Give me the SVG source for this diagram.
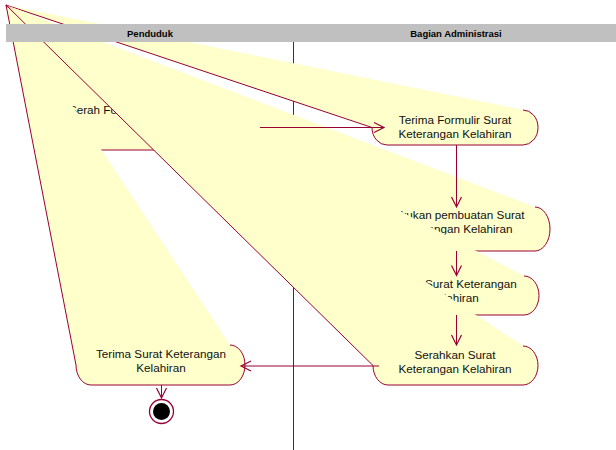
<svg xmlns="http://www.w3.org/2000/svg" width="616" height="450" viewBox="0 0 616 450">
  <style>
    .node { fill: #ffffcc; stroke: #990033; stroke-width: 1; }
    .label { font-family: "Liberation Sans", Arial, sans-serif; font-size: 11.7px; fill: #111; text-anchor: middle; }
    .lane-title { font-family: "Liberation Sans", Arial, sans-serif; font-size: 9.5px; font-weight: bold; fill: #000; text-anchor: middle; }
    .edge { stroke: #990033; stroke-width: 1; fill: none; }
  </style>
  <defs>
    <marker id="open-arrow" markerUnits="userSpaceOnUse" markerWidth="12" markerHeight="12" refX="10" refY="5" orient="auto" overflow="visible">
      <path d="M0,0 L10,5 L0,10" fill="none" stroke="#990033" stroke-width="1.2"/>
    </marker>
  </defs>

  <rect width="616" height="450" fill="#ffffff"/>

  <!-- swimlane divider -->
  <line x1="293.5" y1="42" x2="293.5" y2="450" stroke="#990033" stroke-width="1"/>

  <!-- activity states -->
  <g id="serah-formulir">
    <path class="node" d="M243,100 A15,25 0 0 1 243,150 L67,150 A15,25 0 0 1 52,125 L6,5"/>
    <text class="label" x="155" y="114">Serah Formulir Surat Keterangan</text>
    <text class="label" x="155" y="128">Kelahiran</text>
  </g>

  <g id="terima-formulir">
    <path class="node" d="M523,110 A15,17.5 0 0 1 523,145 L387,145 A15,17.5 0 0 1 372,127.5 L6,5"/>
    <text class="label" x="455" y="124">Terima Formulir Surat</text>
    <text class="label" x="455" y="138">Keterangan Kelahiran</text>
  </g>

  <g id="lakukan-pembuatan">
    <path class="node" d="M535,207 A15,22 0 0 1 535,251 L375,251 A15,22 0 0 1 360,229 L6,5"/>
    <text class="label" x="456" y="218.5">Lakukan pembuatan Surat</text>
    <text class="label" x="456" y="232.5">Keterangan Kelahiran</text>
  </g>

  <g id="cetak-surat">
    <path class="node" d="M524,276 A15,19.5 0 0 1 524,315 L384,315 A15,19.5 0 0 1 369,295.5 L6,5"/>
    <text class="label" x="454" y="288">Cetak Surat Keterangan</text>
    <text class="label" x="454" y="301.5">Kelahiran</text>
  </g>

  <g id="serahkan-surat">
    <path class="node" d="M523,346 A15,19.5 0 0 1 523,385 L388,385 A15,19.5 0 0 1 373,365.5 L6,5"/>
    <text class="label" x="455" y="358.5">Serahkan Surat</text>
    <text class="label" x="455" y="372.5">Keterangan Kelahiran</text>
  </g>

  <g id="terima-surat">
    <path class="node" d="M230,345 A15,20 0 0 1 230,385 L91,385 A15,20 0 0 1 76,365 L6,5"/>
    <text class="label" x="161" y="358">Terima Surat Keterangan</text>
    <text class="label" x="161" y="372">Kelahiran</text>
  </g>

  <g id="final-state">
    <circle cx="161.5" cy="411.5" r="12" fill="#ffffff" stroke="#990033" stroke-width="1.3"/>
    <circle cx="161.5" cy="411.5" r="8.5" fill="#000000"/>
  </g>

  <!-- transitions -->
  <g id="connectors">
    <line class="edge" x1="260" y1="127.5" x2="384" y2="127.5" marker-end="url(#open-arrow)"/>
    <line class="edge" x1="456.5" y1="145" x2="456.5" y2="207" marker-end="url(#open-arrow)"/>
    <line class="edge" x1="456.5" y1="251" x2="456.5" y2="275.5" marker-end="url(#open-arrow)"/>
    <line class="edge" x1="456.5" y1="315" x2="456.5" y2="345" marker-end="url(#open-arrow)"/>
    <line class="edge" x1="379" y1="366" x2="241" y2="366" marker-end="url(#open-arrow)"/>
    <line class="edge" x1="161.5" y1="385" x2="161.5" y2="398" marker-end="url(#open-arrow)"/>
  </g>

  <!-- swimlane header -->
  <g id="lane-header">
    <rect x="6" y="24" width="610" height="18" fill="#c0c0c0"/>
    <text class="lane-title" x="150" y="36.5">Penduduk</text>
    <text class="lane-title" x="456" y="36.5">Bagian Administrasi</text>
  </g>
</svg>
